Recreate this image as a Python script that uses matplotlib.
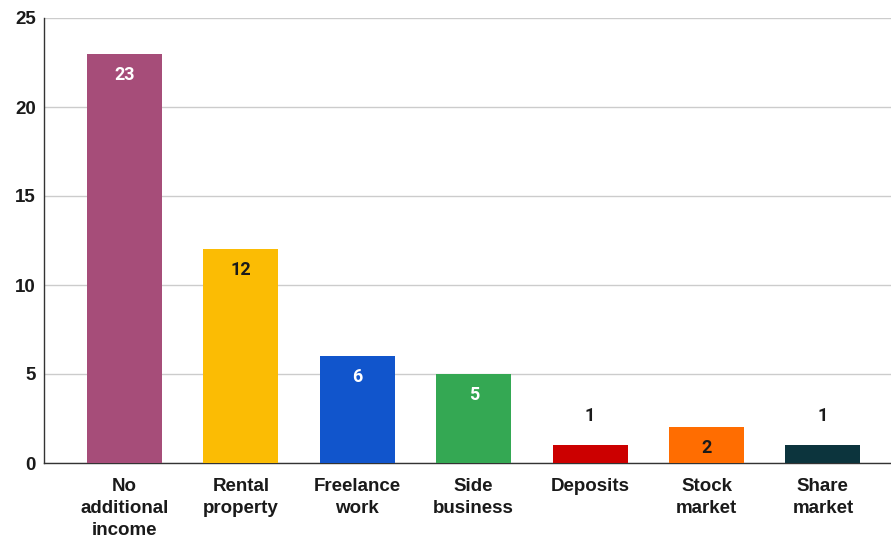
import matplotlib
matplotlib.use("Agg")
import matplotlib.pyplot as plt

categories = ["No\nadditional\nincome", "Rental\nproperty", "Freelance\nwork", "Side\nbusiness",
              "Deposits", "Stock\nmarket", "Share\nmarket"]
values = [23, 12, 6, 5, 1, 2, 1]
colors = ["#A64D79", "#FBBC04", "#1155CC", "#34A853", "#CC0000", "#FF6D01", "#0C343D"]
label_colors = ["#ffffff", "#1a1a1a", "#ffffff", "#ffffff", "#1a1a1a", "#1a1a1a", "#1a1a1a"]
yticks = [0, 5, 10, 15, 20, 25]

plt.rcParams['font.family'] = ['Liberation Sans', 'DejaVu Sans']

W, H = 891, 538
fig = plt.figure(figsize=(W / 100, H / 100), dpi=100)
left, right, top, bottom = 44, 891, 18, 463
ax = fig.add_axes([left / W, (H - bottom) / H, (right - left) / W, (bottom - top) / H])

x = list(range(len(values)))
bars = ax.bar(x, values, width=0.644, color=colors, zorder=3)

ax.set_xlim(-0.692, 6.585)
ax.set_ylim(0, 25)
ax.set_yticks(yticks)
ax.set_yticklabels([str(t) for t in yticks], fontsize=13.5, fontweight='bold', color='#1a1a1a')
ax.set_xticks(x)
ax.set_xticklabels(categories, fontsize=13.5, fontweight='bold', color='#1a1a1a', linespacing=1.4)
ax.tick_params(axis='both', length=0)
ax.tick_params(axis='y', pad=6)
ax.tick_params(axis='x', pad=10.5)

ax.grid(axis='y', color='#cccccc', linewidth=1, zorder=0)
for s in ['top', 'right']:
    ax.spines[s].set_visible(False)
ax.spines['left'].set_color('#333333')
ax.spines['bottom'].set_color('#333333')
ax.spines['left'].set_linewidth(1)
ax.spines['bottom'].set_linewidth(1)

for xi, v, c in zip(x, values, label_colors):
    if v >= 2:
        ax.annotate(str(v), (xi, v), xytext=(0, -21), textcoords='offset pixels',
                    ha='center', va='center', fontsize=13, fontweight='bold', color=c,
                    family=['Roboto', 'DejaVu Sans'], zorder=4)
    else:
        ax.annotate(str(v), (xi, v), xytext=(0, 29), textcoords='offset pixels',
                    ha='center', va='center', fontsize=13, fontweight='bold', color='#1a1a1a',
                    family=['Roboto', 'DejaVu Sans'], zorder=4)

fig.savefig("out.png", dpi=100)
